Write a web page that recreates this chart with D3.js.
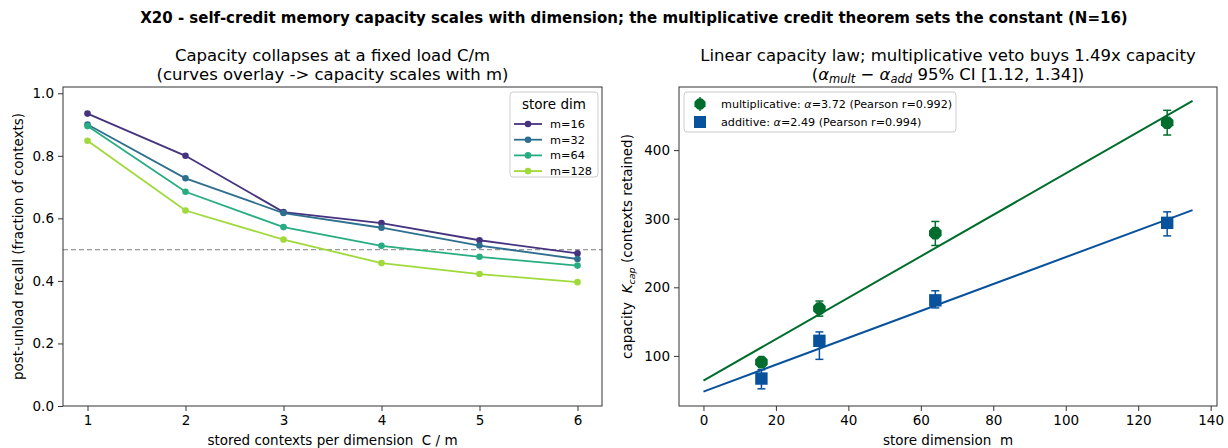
<!DOCTYPE html>
<html>
<head>
<meta charset="utf-8">
<script src="https://cdn.jsdelivr.net/npm/d3@7"></script>
<style>
  body { margin: 0; background: #fff; }
  svg { display: block; font-family: "DejaVu Sans", sans-serif; }
  svg text { white-space: pre; }
</style>
</head>
<body>
<svg id="fig" width="1228" height="448"></svg>
<script>
// ---- left panel: recall vs load per store dimension ----
const loads = [1, 2, 3, 4, 5, 6];
const dimLabels = ["m=16", "m=32", "m=64", "m=128"];
const recallM16 = [0.935, 0.800, 0.620, 0.585, 0.530, 0.488];
const recallM32 = [0.900, 0.728, 0.617, 0.570, 0.513, 0.470];
const recallM64 = [0.895, 0.685, 0.572, 0.512, 0.477, 0.449];
const recallM128 = [0.848, 0.625, 0.532, 0.457, 0.422, 0.396];
const recallThreshold = 0.5;
const leftYTicks = [0.0, 0.2, 0.4, 0.6, 0.8, 1.0];

// ---- right panel: capacity vs store dimension ----
const dims = [16, 32, 64, 128];
const multCap = [91, 169, 279, 440];
const multLo = [85, 158, 261, 422];
const multHi = [97, 180, 296, 458];
const addCap = [67, 122, 181, 294];
const addLo = [52, 95, 170, 275];
const addHi = [80, 135, 195, 310];
const fitRange = [0, 135];
const multFit = { intercept: 64, slope: 3.02 };
const addFit = { intercept: 48, slope: 1.96 };
const rightXTicks = [0, 20, 40, 60, 80, 100, 120, 140];
const rightYTicks = [100, 200, 300, 400];

const svg = d3.select("#fig");
const seriesColors = ["#46337f", "#2e6f8e", "#27ad81", "#9fda3a"];
const green = "#006d2c", blue = "#08519c";
const frameColor = "#333";

// suptitle
svg.append("text").attr("x", 634).attr("y", 23).attr("text-anchor", "middle")
  .attr("font-size", 15).attr("font-weight", "bold")
  .text("X20 - self-credit memory capacity scales with dimension; the multiplicative credit theorem sets the constant (N=16)");

function frame(g, w, h) {
  g.append("rect").attr("x", 0).attr("y", 0).attr("width", w).attr("height", h)
    .attr("fill", "none").attr("stroke", frameColor).attr("stroke-width", 1);
}
function styleAxis(sel) {
  sel.select(".domain").remove();
  sel.selectAll(".tick line").attr("stroke", frameColor);
  sel.selectAll(".tick text").attr("font-size", 13.5).attr("fill", "#000")
    .attr("font-family", "DejaVu Sans, sans-serif");
}

// ================= LEFT =================
const L = { x: 63, y: 87, w: 539, h: 319 };
const gl = svg.append("g").attr("transform", `translate(${L.x},${L.y})`);
const xl = d3.scaleLinear().domain([0.75, 6.25]).range([0, L.w]);
const yl = d3.scaleLinear().domain([0, 1.02]).range([L.h, 0]);

gl.append("g").attr("transform", `translate(0,${L.h})`)
  .call(d3.axisBottom(xl).tickValues(loads).tickFormat(d3.format("d")).tickSize(5).tickPadding(4))
  .call(styleAxis);
gl.append("g")
  .call(d3.axisLeft(yl).tickValues(leftYTicks).tickFormat(d3.format(".1f")).tickSize(5).tickPadding(4))
  .call(styleAxis);

gl.append("line").attr("x1", 0).attr("x2", L.w)
  .attr("y1", yl(recallThreshold)).attr("y2", yl(recallThreshold))
  .attr("stroke", "#999").attr("stroke-width", 1.2).attr("stroke-dasharray", "5,3");

const recallSeries = [recallM16, recallM32, recallM64, recallM128];
const lineL = d3.line().x((d, i) => xl(loads[i])).y(d => yl(d));
recallSeries.forEach((vals, si) => {
  gl.append("path").datum(vals).attr("d", lineL).attr("fill", "none")
    .attr("stroke", seriesColors[si]).attr("stroke-width", 1.8);
  gl.selectAll(null).data(vals).enter().append("circle")
    .attr("cx", (d, i) => xl(loads[i])).attr("cy", d => yl(d)).attr("r", 3.3)
    .attr("fill", seriesColors[si]);
});
frame(gl, L.w, L.h);

// left legend
const lg = gl.append("g").attr("transform", `translate(${L.w - 92},5)`);
lg.append("rect").attr("width", 88).attr("height", 85).attr("rx", 3)
  .attr("fill", "#fff").attr("fill-opacity", 0.8).attr("stroke", "#ccc");
lg.append("text").attr("x", 44).attr("y", 17).attr("text-anchor", "middle")
  .attr("font-size", 13.5).text("store dim");
dimLabels.forEach((lab, i) => {
  const yy = 32 + i * 15.7;
  lg.append("line").attr("x1", 4).attr("x2", 32).attr("y1", yy).attr("y2", yy)
    .attr("stroke", seriesColors[i]).attr("stroke-width", 1.8);
  lg.append("circle").attr("cx", 18).attr("cy", yy).attr("r", 3.3).attr("fill", seriesColors[i]);
  lg.append("text").attr("x", 40).attr("y", yy + 4).attr("font-size", 11.3).text(lab);
});

// left titles and labels
const lt = svg.append("text").attr("text-anchor", "middle").attr("font-size", 16.5);
lt.append("tspan").attr("x", L.x + L.w / 2).attr("y", 61).text("Capacity collapses at a fixed load C/m");
lt.append("tspan").attr("x", L.x + L.w / 2).attr("y", 80).text("(curves overlay -> capacity scales with m)");
svg.append("text").attr("x", L.x + L.w / 2).attr("y", 445).attr("text-anchor", "middle")
  .attr("font-size", 13.5).text("stored contexts per dimension  C / m");
svg.append("text").attr("transform", `translate(23,${L.y + L.h / 2}) rotate(-90)`)
  .attr("text-anchor", "middle").attr("font-size", 13.5)
  .text("post-unload recall (fraction of contexts)");

// ================= RIGHT =================
const R = { x: 679, y: 87, w: 538, h: 319 };
const gr = svg.append("g").attr("transform", `translate(${R.x},${R.y})`);
const xr = d3.scaleLinear().domain([-6.75, 141.75]).range([0, R.w]);
const yr = d3.scaleLinear().domain([27, 492]).range([R.h, 0]);

gr.append("g").attr("transform", `translate(0,${R.h})`)
  .call(d3.axisBottom(xr).tickValues(rightXTicks).tickFormat(d3.format("d")).tickSize(5).tickPadding(4))
  .call(styleAxis);
gr.append("g")
  .call(d3.axisLeft(yr).tickValues(rightYTicks).tickFormat(d3.format("d")).tickSize(5).tickPadding(4))
  .call(styleAxis);

const fitLine = (fit) => d3.line().x(d => xr(d)).y(d => yr(fit.intercept + fit.slope * d))(fitRange);
gr.append("path").attr("d", fitLine(multFit)).attr("fill", "none").attr("stroke", green).attr("stroke-width", 2);
gr.append("path").attr("d", fitLine(addFit)).attr("fill", "none").attr("stroke", blue).attr("stroke-width", 2);

function octagon(r) {
  const pts = d3.range(8).map(k => {
    const a = Math.PI / 8 + k * Math.PI / 4;
    return [r * Math.cos(a), r * Math.sin(a)];
  });
  return "M" + pts.map(p => p.join(",")).join("L") + "Z";
}
function errorbars(g, xs, lo, hi, color) {
  const cap = 4;
  xs.forEach((x, i) => {
    const px = xr(x);
    g.append("line").attr("x1", px).attr("x2", px).attr("y1", yr(lo[i])).attr("y2", yr(hi[i]))
      .attr("stroke", color).attr("stroke-width", 1.5);
    [lo[i], hi[i]].forEach(v => g.append("line").attr("x1", px - cap).attr("x2", px + cap)
      .attr("y1", yr(v)).attr("y2", yr(v)).attr("stroke", color).attr("stroke-width", 1.5));
  });
}
errorbars(gr, dims, multLo, multHi, green);
errorbars(gr, dims, addLo, addHi, blue);
gr.selectAll(null).data(multCap).enter().append("path")
  .attr("transform", (d, i) => `translate(${xr(dims[i])},${yr(d)})`)
  .attr("d", octagon(6.8)).attr("fill", green);
gr.selectAll(null).data(addCap).enter().append("rect")
  .attr("x", (d, i) => xr(dims[i]) - 6.2).attr("y", d => yr(d) - 6.2)
  .attr("width", 12.4).attr("height", 12.4).attr("fill", blue);
frame(gr, R.w, R.h);

// right legend
const rg = gr.append("g").attr("transform", "translate(5,5)");
rg.append("rect").attr("width", 272).attr("height", 40).attr("rx", 3)
  .attr("fill", "#fff").attr("fill-opacity", 0.8).attr("stroke", "#ccc");
const legendItems = [
  { name: "multiplicative", alpha: "3.72", r: "0.992", color: green, shape: "oct" },
  { name: "additive", alpha: "2.49", r: "0.994", color: blue, shape: "sq" }
];
legendItems.forEach((it, i) => {
  const yy = 12 + i * 18;
  if (it.shape === "oct") {
    rg.append("line").attr("x1", 16).attr("x2", 16).attr("y1", yy - 7).attr("y2", yy + 7)
      .attr("stroke", it.color).attr("stroke-width", 1.5);
    rg.append("path").attr("transform", `translate(16,${yy})`).attr("d", octagon(6)).attr("fill", it.color);
  } else {
    rg.append("rect").attr("x", 10).attr("y", yy - 6).attr("width", 12).attr("height", 12).attr("fill", it.color);
  }
  const t = rg.append("text").attr("x", 37).attr("y", yy + 4).attr("font-size", 11.2);
  t.append("tspan").text(it.name + ": ");
  t.append("tspan").attr("font-style", "italic").text("α");
  t.append("tspan").text(`=${it.alpha} (Pearson r=${it.r})`);
});

// right titles and labels
const rt = svg.append("text").attr("text-anchor", "middle").attr("font-size", 16.5);
rt.append("tspan").attr("x", R.x + R.w / 2).attr("y", 61)
  .text("Linear capacity law; multiplicative veto buys 1.49x capacity");
const rt2 = svg.append("text").attr("x", R.x + R.w / 2).attr("y", 80)
  .attr("text-anchor", "middle").attr("font-size", 16.5);
rt2.append("tspan").text("(");
rt2.append("tspan").attr("font-style", "italic").text("α");
rt2.append("tspan").attr("font-style", "italic").attr("font-size", 11.5).attr("dy", 3).text("mult");
rt2.append("tspan").attr("dy", -3).text(" − ");
rt2.append("tspan").attr("font-style", "italic").text("α");
rt2.append("tspan").attr("font-style", "italic").attr("font-size", 11.5).attr("dy", 3).text("add");
rt2.append("tspan").attr("dy", -3).text(" 95% CI [1.12, 1.34])");

svg.append("text").attr("x", R.x + R.w / 2).attr("y", 445).attr("text-anchor", "middle")
  .attr("font-size", 13.5).text("store dimension  m");
const yl2 = svg.append("text").attr("transform", `translate(632,${R.y + R.h / 2}) rotate(-90)`)
  .attr("text-anchor", "middle").attr("font-size", 13.5);
yl2.append("tspan").text("capacity  ");
yl2.append("tspan").attr("font-style", "italic").text("K");
yl2.append("tspan").attr("font-style", "italic").attr("font-size", 9.5).attr("dy", 3).text("cap");
yl2.append("tspan").attr("dy", -3).text(" (contexts retained)");
</script>
</body>
</html>
